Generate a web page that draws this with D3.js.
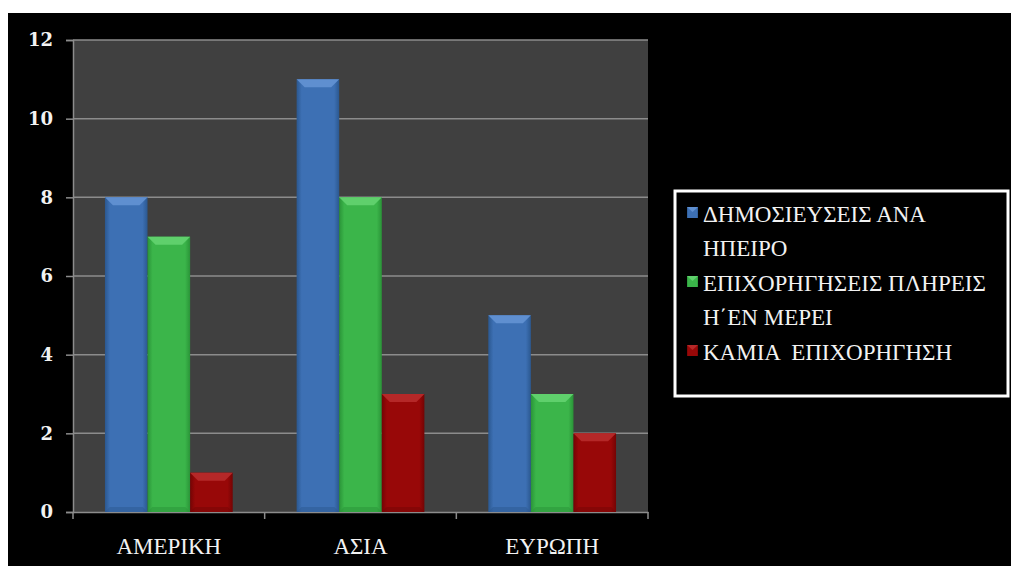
<!DOCTYPE html>
<html>
<head>
<meta charset="utf-8">
<script src="https://cdn.jsdelivr.net/npm/d3@7"></script>
<style>
  html, body { margin: 0; padding: 0; background: #fff; }
  svg { display: block; }
</style>
</head>
<body>
<svg id="chart" width="1011" height="566"></svg>
<script>
// data
const continents = ["ΑΜΕΡΙΚΗ", "ΑΣΙΑ", "ΕΥΡΩΠΗ"]
const seriesNames = [
    ["ΔΗΜΟΣΙΕΥΣΕΙΣ ΑΝΑ", "ΗΠΕΙΡΟ"],
    ["ΕΠΙΧΟΡΗΓΗΣΕΙΣ ΠΛΗΡΕΙΣ", "Η΄ΕΝ ΜΕΡΕΙ"],
    ["ΚΑΜΙΑ  ΕΠΙΧΟΡΗΓΗΣΗ"]
]
const publications = [8, 11, 5]
const grants = [7, 8, 3]
const noGrant = [1, 3, 2]
const yTicks = [0, 2, 4, 6, 8, 10, 12]

const seriesValues = [publications, grants, noGrant]
const seriesColors = [
    { mid: "#3d70b4", edge: "#2b5890", top: "#5f8fd0" },
    { mid: "#3bb54a", edge: "#2a9438", top: "#5fd06c" },
    { mid: "#980808", edge: "#740404", top: "#b52828" }
]
const SERIF = "\"Liberation Serif\", \"Times New Roman\", monospace"

const svg = d3.select("#chart")

/* black backdrop, white strip on top and left like the screenshot */
svg.append("rect").attr("width", 1011).attr("height", 566).attr("fill", "#fff")
svg.append("rect").attr("x", 8).attr("y", 13).attr("width", 1003).attr("height", 553).attr("fill", "#000")

const plot = { left: 73, right: 648, top: 40, bottom: 512 }

let x0 = d3.scaleBand()
    .domain(continents)
    .range([plot.left, plot.right])

let barW = x0.bandwidth() / 4.5
let x1 = d3.scaleBand()
    .domain(d3.range(seriesValues.length))
    .range([0.75 * barW, x0.bandwidth() - 0.75 * barW])

let y = d3.scaleLinear()
    .domain([0, 12])
    .range([plot.bottom, plot.top])

/* gradients for the bevelled bars */
let defs = svg.append("defs")
seriesColors.forEach(function (c, i) {
    let g = defs.append("linearGradient").attr("id", "grad" + i)
        .attr("x1", 0).attr("x2", 1).attr("y1", 0).attr("y2", 0)
    g.append("stop").attr("offset", "0%").attr("stop-color", c.edge)
    g.append("stop").attr("offset", "12%").attr("stop-color", c.mid)
    g.append("stop").attr("offset", "88%").attr("stop-color", c.mid)
    g.append("stop").attr("offset", "100%").attr("stop-color", c.edge)
})

/* plot area */
svg.append("rect")
    .attr("x", plot.left).attr("y", plot.top)
    .attr("width", plot.right - plot.left).attr("height", plot.bottom - plot.top)
    .attr("fill", "#404040")

svg.append("g").selectAll("line")
    .data(yTicks.filter(d => d > 0))
    .join("line")
    .attr("x1", plot.left).attr("x2", plot.right)
    .attr("y1", d => y(d)).attr("y2", d => y(d))
    .attr("stroke", "#8c8c8c").attr("stroke-width", 1.5)

/* y axis */
let yAxis = svg.append("g")
    .attr("transform", `translate(${plot.left},0)`)
    .call(d3.axisLeft(y).tickValues(yTicks).tickSize(7).tickPadding(13))
yAxis.select(".domain").attr("stroke", "#8c8c8c").attr("stroke-width", 1.5)
yAxis.selectAll(".tick line").attr("stroke", "#8c8c8c").attr("stroke-width", 1.5)
yAxis.selectAll("text")
    .attr("fill", "#f2f2f2")
    .style("font-family", "\"DejaVu Serif\", monospace")
    .style("font-weight", "bold")
    .style("font-size", "18px")

/* x axis */
let xAxis = svg.append("g")
    .attr("transform", `translate(0,${plot.bottom})`)
    .call(d3.axisBottom(x0).tickSize(0).tickPadding(26))
xAxis.select(".domain").attr("stroke", "#8c8c8c").attr("stroke-width", 1.5)
xAxis.selectAll("text")
    .attr("fill", "#f2f2f2")
    .style("font-family", SERIF)
    .style("font-size", "23px")
xAxis.selectAll("line.sep")
    .data(d3.range(continents.length + 1))
    .join("line")
    .attr("class", "sep")
    .attr("x1", i => plot.left + i * x0.step()).attr("x2", i => plot.left + i * x0.step())
    .attr("y1", 0).attr("y2", 7)
    .attr("stroke", "#8c8c8c").attr("stroke-width", 1.5)

/* bars */
let rows = []
continents.forEach(function (c, ci) {
    seriesValues.forEach(function (vals, si) {
        rows.push({ continent: c, series: si, value: vals[ci] })
    })
})

let bars = svg.append("g").attr("id", "bars")
    .selectAll("g")
    .data(rows)
    .join("g")
    .attr("transform", d => `translate(${x0(d.continent) + x1(d.series)},${y(d.value)})`)

let bw = x1.bandwidth()
let bevel = 8

bars.append("rect")
    .attr("width", bw)
    .attr("height", d => plot.bottom - y(d.value))
    .attr("fill", d => `url(#grad${d.series})`)

bars.append("path")
    .attr("d", `M0,0 L${bw},0 L${bw - bevel},${bevel} L${bevel},${bevel} Z`)
    .attr("fill", d => seriesColors[d.series].top)

bars.append("path")
    .attr("d", d => {
        let h = plot.bottom - y(d.value)
        return `M0,${h} L${bevel * 0.6},${h - 5} L${bw - bevel * 0.6},${h - 5} L${bw},${h} Z`
    })
    .attr("fill", d => seriesColors[d.series].edge)
    .attr("opacity", 0.5)

/* legend */
let legend = svg.append("g").attr("id", "legend")
legend.append("rect")
    .attr("x", 675).attr("y", 191)
    .attr("width", 333).attr("height", 205)
    .attr("fill", "#000")
    .attr("stroke", "#fff").attr("stroke-width", 3)

let itemTop = [207, 276, 345]
let lineGap = 34

let items = legend.selectAll("g.item")
    .data(seriesNames)
    .join("g")
    .attr("class", "item")
    .attr("transform", (d, i) => `translate(687,${itemTop[i]})`)

items.append("rect")
    .attr("width", 11).attr("height", 11)
    .attr("fill", (d, i) => `url(#grad${i})`)
items.append("path")
    .attr("d", "M0,0 L11,0 L5.5,5 Z")
    .attr("fill", (d, i) => seriesColors[i].top)

items.each(function (lines) {
    let t = d3.select(this).append("text")
        .attr("fill", "#f2f2f2")
        .style("font-family", SERIF)
        .style("font-size", "23px")
        .style("white-space", "pre")
    lines.forEach(function (l, li) {
        t.append("tspan")
            .attr("x", 16)
            .attr("y", 15 + li * lineGap)
            .text(l)
    })
})
</script>
</body>
</html>
